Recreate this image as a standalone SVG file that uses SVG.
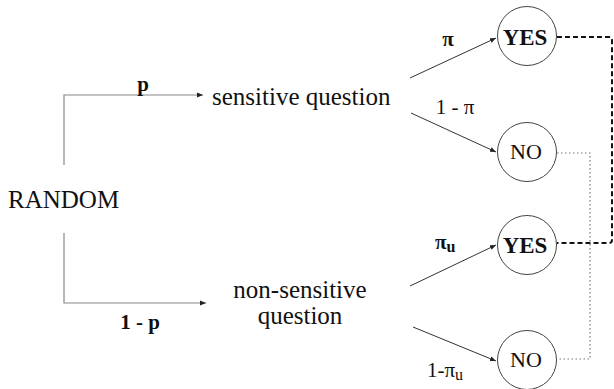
<svg xmlns="http://www.w3.org/2000/svg" width="614" height="389" viewBox="0 0 614 389">
<defs>
<marker id="ah" markerUnits="userSpaceOnUse" markerWidth="7" markerHeight="6" refX="6" refY="3" orient="auto">
<path d="M0,0.5 L6,3 L0,5.5 Z" fill="#222"/>
</marker>
<style>
text{fill:#111;font-family:Liberation Serif, DejaVu Serif, serif}
.big{font-size:25px}
.lbl{font-size:21px}
.b{font-weight:bold}
.node circle{fill:#fff;stroke:#444;stroke-width:1}
.gray{fill:none;stroke:#888;stroke-width:1.2}
.arr{fill:none;stroke:#333;stroke-width:1}
.dash{fill:none;stroke:#111;stroke-width:2;stroke-dasharray:5 3}
.dot{fill:none;stroke:#777;stroke-width:1.2;stroke-dasharray:1.5 2.5}
</style>
</defs>
<rect width="614" height="389" fill="#fff"/>
<g id="connectors">
<path class="gray" d="M64,165 V95 H203" marker-end="url(#ah)"/>
<path class="gray" d="M64,233 V303 H206" marker-end="url(#ah)"/>
<line class="arr" x1="410" y1="78" x2="496" y2="38" marker-end="url(#ah)"/>
<line class="arr" x1="411" y1="113" x2="496" y2="152" marker-end="url(#ah)"/>
<line class="arr" x1="410" y1="286" x2="496" y2="245" marker-end="url(#ah)"/>
<line class="arr" x1="413" y1="327" x2="496" y2="361" marker-end="url(#ah)"/>
<path class="dash" d="M557,37 H609 Q612,37 612,40 V240 Q612,243 609,243 H557"/>
<path class="dot" d="M557,153 H590 V359 H557"/>
<text class="lbl b" x="143" y="91" text-anchor="middle">p</text>
<text class="lbl b" x="140" y="329" text-anchor="middle">1 - p</text>
<text class="lbl b" x="448" y="46" text-anchor="middle">π</text>
<text class="lbl" x="455" y="114" text-anchor="middle">1 - π</text>
<text class="lbl b" x="435" y="249">π<tspan font-size="16" dy="3">u</tspan></text>
<text class="lbl" x="427" y="377">1-π<tspan font-size="16" dy="3">u</tspan></text>
</g>
<g id="random"><text class="big" x="8" y="208" font-family="Liberation Serif">RANDOM</text></g>
<g id="sensitive"><text class="big" x="212" y="105">sensitive question</text></g>
<g id="nonsensitive">
<text class="big" x="300" y="298" text-anchor="middle">non-sensitive</text>
<text class="big" x="300" y="324" text-anchor="middle">question</text>
</g>
<g id="yes1" class="node"><circle cx="527" cy="36" r="29.5"/><text x="525" y="45" font-size="23" font-weight="bold" text-anchor="middle">YES</text></g>
<g id="no1" class="node"><circle cx="527" cy="152" r="29.5"/><text x="526" y="159" font-size="22" text-anchor="middle">NO</text></g>
<g id="yes2" class="node"><circle cx="527" cy="245" r="29.5"/><text x="525" y="253" font-size="23" font-weight="bold" text-anchor="middle">YES</text></g>
<g id="no2" class="node"><circle cx="527" cy="360" r="29.5"/><text x="526" y="367" font-size="22" text-anchor="middle">NO</text></g>
</svg>
